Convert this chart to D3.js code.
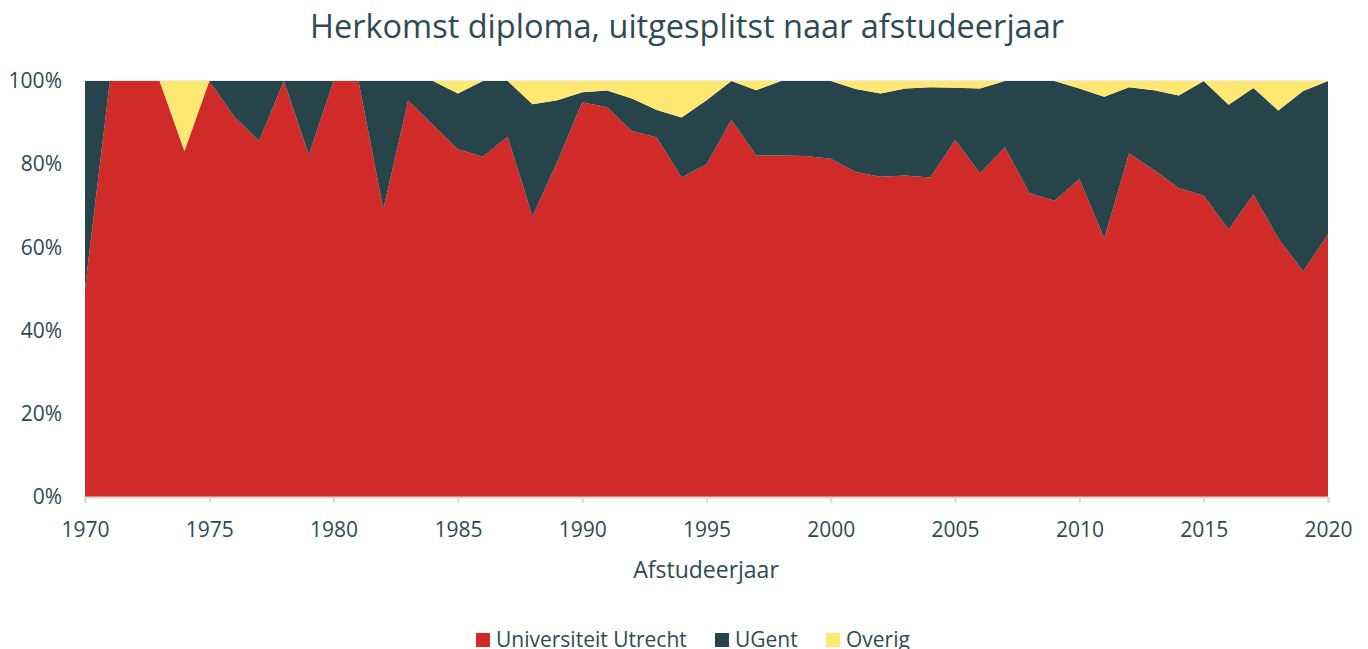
<!DOCTYPE html>
<html>
<head>
<meta charset="utf-8">
<script src="https://cdn.jsdelivr.net/npm/d3@7"></script>
<style>
  body { margin: 0; background: #fff; }
  text { font-family: "Open Sans", sans-serif; fill: #2e4a52; }
</style>
</head>
<body>
<svg id="chart" width="1368" height="649"></svg>
<script>
// --------------------------------
// data
// --------------------------------
var years = d3.range(1970, 2021);

var utrecht = [50, 100, 100, 100, 83.2, 100, 91.4, 85.6, 100, 82.2,
  100, 100, 69.2, 95.3, 89.4, 83.6, 81.8, 86.6, 67.4, 80.6,
  94.9, 93.7, 88.0, 86.4, 76.8, 80.0, 90.6, 82.1, 82.1, 82.0,
  81.3, 78.1, 77.0, 77.3, 76.8, 85.8, 77.8, 84.0, 73.0, 71.2,
  76.4, 62.2, 82.6, 78.6, 74.2, 72.5, 64.3, 72.7, 62.2, 54.2,
  63.1];

var ugent = [50, 0, 0, 0, 0, 0, 8.6, 14.4, 0, 17.8,
  0, 0, 30.8, 4.7, 10.6, 13.4, 18.2, 13.4, 27.0, 14.8,
  2.4, 4.0, 7.8, 6.6, 14.4, 15.4, 9.4, 15.7, 17.9, 18.0,
  18.7, 20.0, 20.0, 20.9, 21.7, 12.6, 20.4, 16.0, 27.0, 28.8,
  21.8, 34.0, 15.9, 19.2, 22.3, 27.5, 30.0, 25.6, 30.7, 43.4,
  36.9];

var overig = [0, 0, 0, 0, 16.8, 0, 0, 0, 0, 0,
  0, 0, 0, 0, 0, 3.0, 0, 0, 5.6, 4.6,
  2.7, 2.3, 4.2, 7.0, 8.8, 4.6, 0, 2.2, 0, 0,
  0, 1.9, 3.0, 1.8, 1.5, 1.6, 1.8, 0, 0, 0,
  1.8, 3.8, 1.5, 2.2, 3.5, 0, 5.7, 1.7, 7.1, 2.4,
  0];

var seriesNames = ["Universiteit Utrecht", "UGent", "Overig"];
var seriesColors = ["#d02b29", "#27444a", "#fee872"];
var yTicks = [0, 20, 40, 60, 80, 100];
var xTicks = [1970, 1975, 1980, 1985, 1990, 1995, 2000, 2005, 2010, 2015, 2020];

// --------------------------------
// layout
// --------------------------------
var plotLeft = 85, plotRight = 1328, plotTop = 81, plotBottom = 497;

var svg = d3.select("#chart");

var rows = years.map(function(yr, i){
  return {year: yr, "Universiteit Utrecht": utrecht[i], "UGent": ugent[i], "Overig": overig[i]};
});

var layers = d3.stack().keys(seriesNames)(rows);

var x = d3.scaleLinear().domain([1970, 2020]).range([plotLeft, plotRight]);
var y = d3.scaleLinear().domain([0, 100]).range([plotBottom, plotTop]);

// gridlines (only the top one stays visible)
svg.append("g").selectAll("line").data(yTicks).join("line")
  .attr("x1", plotLeft).attr("x2", plotRight)
  .attr("y1", function(d){ return y(d); }).attr("y2", function(d){ return y(d); })
  .attr("stroke", "#d9d9d9").attr("stroke-width", 1);

var area = d3.area()
  .x(function(d){ return x(d.data.year); })
  .y0(function(d){ return y(d[0]); })
  .y1(function(d){ return y(d[1]); });

svg.append("g").selectAll("path").data(layers).join("path")
  .attr("d", area)
  .attr("fill", function(d, i){ return seriesColors[i]; });

// x axis
var xAxis = d3.axisBottom(x).tickValues(xTicks).tickFormat(d3.format("d")).tickSize(6).tickPadding(19);
var gx = svg.append("g").attr("transform", "translate(0," + plotBottom + ")").call(xAxis);
gx.select(".domain").attr("stroke", "#d9d9d9").attr("stroke-width", 2);
gx.selectAll(".tick line").attr("stroke", "#d9d9d9").attr("stroke-width", 2);
gx.selectAll(".tick text").style("font-size", "21px").style("fill", "#2e4a52");

// y axis
var yAxis = d3.axisLeft(y).tickValues(yTicks).tickFormat(function(d){ return d + "%"; }).tickSize(0).tickPadding(23);
var gy = svg.append("g").attr("transform", "translate(" + plotLeft + ",0)").call(yAxis);
gy.select(".domain").remove();
gy.selectAll(".tick text").style("font-size", "21px").style("fill", "#2e4a52");

// title
svg.append("text")
  .attr("x", 687).attr("y", 38)
  .attr("text-anchor", "middle")
  .style("font-size", "32.5px")
  .text("Herkomst diploma, uitgesplitst naar afstudeerjaar");

// axis title
svg.append("text")
  .attr("x", 706).attr("y", 578)
  .attr("text-anchor", "middle")
  .style("font-size", "23px")
  .text("Afstudeerjaar");

// legend (cut off at the bottom edge, as in the original)
var legendX = [476, 715, 826];
var lg = svg.append("g").selectAll("g").data(seriesNames).join("g")
  .attr("transform", function(d, i){ return "translate(" + legendX[i] + ",633)"; });
lg.append("rect").attr("width", 14).attr("height", 14)
  .attr("fill", function(d, i){ return seriesColors[i]; });
lg.append("text").attr("x", 20).attr("y", 14)
  .style("font-size", "21px")
  .text(function(d){ return d; });
</script>
</body>
</html>
